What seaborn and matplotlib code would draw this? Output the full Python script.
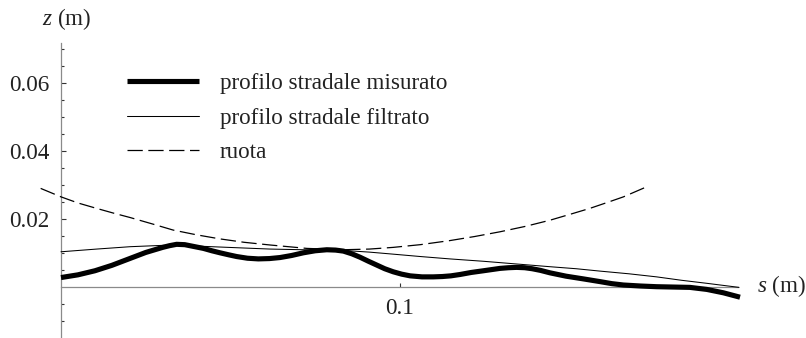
import matplotlib
matplotlib.use("Agg")
import matplotlib.pyplot as plt
from matplotlib.ticker import FixedLocator, FixedFormatter, NullFormatter
import pandas as pd
import seaborn as sns

# ---- data (s in m, z in m) ----
s_measured = [0.0, 0.005, 0.010, 0.015, 0.020, 0.025, 0.030, 0.032, 0.0341, 0.0365,
              0.0395, 0.042, 0.0445, 0.0469, 0.0495, 0.0518, 0.055, 0.0582, 0.0615,
              0.0646, 0.068, 0.0715, 0.075, 0.0784, 0.081, 0.0833, 0.0858, 0.0882,
              0.0907, 0.0931, 0.0955, 0.098, 0.1005, 0.103, 0.1065, 0.1098, 0.1125,
              0.115, 0.1177, 0.121, 0.1246, 0.1295, 0.132, 0.1344, 0.1368, 0.139,
              0.1415, 0.1442, 0.149, 0.1541, 0.159, 0.1625, 0.1659, 0.171, 0.1757,
              0.1805, 0.1855, 0.1905, 0.1954, 0.2003]
z_measured = [0.0027, 0.0035, 0.0047, 0.0063, 0.0082, 0.0101, 0.0116, 0.0121, 0.0125,
              0.0124, 0.0118, 0.0113, 0.0106, 0.0100, 0.0094, 0.0089, 0.0084, 0.0082,
              0.0083, 0.0086, 0.0092, 0.0100, 0.0106, 0.0109, 0.0108, 0.0105, 0.0097,
              0.0087, 0.0075, 0.0064, 0.0053, 0.0044, 0.0037, 0.0032, 0.0029, 0.0029,
              0.0030, 0.0032, 0.0036, 0.0042, 0.0047, 0.0054, 0.0056, 0.0057, 0.0056,
              0.0053, 0.0048, 0.0041, 0.0031, 0.0023, 0.0015, 0.0009, 0.0005, 0.0002,
              0.0, -0.0001, -0.0002, -0.0008, -0.0018, -0.0031]

s_filtered = [0.0, 0.0105, 0.0204, 0.0302, 0.036, 0.042, 0.0518, 0.0617, 0.0715,
              0.0833, 0.091, 0.098, 0.106, 0.1147, 0.1246, 0.1344, 0.1442, 0.152,
              0.159, 0.1676, 0.1757, 0.183, 0.1905, 0.2]
z_filtered = [0.0103, 0.0111, 0.0118, 0.0122, 0.0122, 0.0119, 0.0115, 0.0111, 0.0109,
              0.0107, 0.0102, 0.0096, 0.0089, 0.0082, 0.0075, 0.0067, 0.0059, 0.0053,
              0.0046, 0.0038, 0.0029, 0.0019, 0.0010, -0.0002]

s_wheel = [-0.006, 0.0, 0.005, 0.0105, 0.0155, 0.0204, 0.027, 0.0331, 0.04, 0.0469,
           0.054, 0.0617, 0.0725, 0.0833, 0.091, 0.098, 0.106, 0.1147, 0.122, 0.1295,
           0.137, 0.1442, 0.151, 0.156, 0.161, 0.1659, 0.1733]
z_wheel = [0.0290, 0.0265, 0.0247, 0.0231, 0.0217, 0.0204, 0.0185, 0.0167, 0.0153,
           0.0141, 0.0131, 0.0123, 0.0113, 0.0109, 0.0111, 0.0116, 0.0124, 0.0136,
           0.0148, 0.0162, 0.0178, 0.0196, 0.0216, 0.0231, 0.0248, 0.0265, 0.0297]

series_labels = ["profilo stradale misurato", "profilo stradale filtrato", "ruota"]

y_major = [0.02, 0.04, 0.06]
y_major_labels = ["0.02", "0.04", "0.06"]
y_minor = [-0.01, -0.005, 0.005, 0.01, 0.015, 0.025, 0.03, 0.035, 0.045, 0.05,
           0.055, 0.065, 0.07]
x_major = [0.1]
x_major_labels = ["0.1"]

# ---- style ----
sns.set_style("white")
plt.rcParams["font.family"] = ["Liberation Serif", "DejaVu Serif"]
plt.rcParams["mathtext.fontset"] = "custom"
plt.rcParams["mathtext.rm"] = "Liberation Serif"
plt.rcParams["mathtext.it"] = "Liberation Serif:italic"
plt.rcParams["lines.scale_dashes"] = False

FS = 16.7
W, H = 806, 338
fig = plt.figure(figsize=(W / 100, H / 100), dpi=100)
ax = fig.add_axes([0, 0, 1, 1])
ax.set_facecolor("white")

# same scale on both axes: 3390 px per metre, origin at pixel (61, 286.7)
px_per_m = 3390.0
x0, y0 = 61.0, 286.7
ax.set_xlim(-x0 / px_per_m, (W - x0) / px_per_m)
ax.set_ylim(-(H - y0) / px_per_m, y0 / px_per_m)

df_m = pd.DataFrame({"s": s_measured, "z": z_measured})
df_f = pd.DataFrame({"s": s_filtered, "z": z_filtered})
df_w = pd.DataFrame({"s": s_wheel, "z": z_wheel})

sns.lineplot(data=df_m, x="s", y="z", ax=ax, color="black", linewidth=3.7,
             label=series_labels[0], sort=False, solid_capstyle="butt",
             solid_joinstyle="round", zorder=3)
sns.lineplot(data=df_f, x="s", y="z", ax=ax, color="black", linewidth=0.75,
             label=series_labels[1], sort=False, zorder=4)
sns.lineplot(data=df_w, x="s", y="z", ax=ax, color="black", linewidth=0.9,
             label=series_labels[2], sort=False, zorder=4)
ax.lines[2].set_dashes((11, 4))

# ---- axes through the origin ----
for side in ("top", "right"):
    ax.spines[side].set_visible(False)
ax.spines["left"].set_position(("data", 0))
ax.spines["bottom"].set_position(("data", 0))
ax.spines["left"].set_bounds(-(H - y0) / px_per_m, (y0 - 43) / px_per_m)
ax.spines["bottom"].set_bounds(0, (738 - x0) / px_per_m)
for side in ("left", "bottom"):
    ax.spines[side].set_color("#8a8a8a")
    ax.spines[side].set_linewidth(0.9)
    ax.spines[side].set_zorder(1)

ax.yaxis.set_major_locator(FixedLocator(y_major))
ax.yaxis.set_major_formatter(FixedFormatter(y_major_labels))
ax.yaxis.set_minor_locator(FixedLocator(y_minor))
ax.yaxis.set_minor_formatter(NullFormatter())
ax.xaxis.set_major_locator(FixedLocator(x_major))
ax.xaxis.set_major_formatter(FixedFormatter(x_major_labels))

ax.tick_params(axis="y", which="major", direction="in", length=3.5, width=0.8,
               color="#333333", labelsize=FS, labelcolor="#222222", pad=8.5,
               left=True)
ax.tick_params(axis="y", which="minor", direction="in", length=2.4, width=0.8,
               color="#333333", left=True)
ax.tick_params(axis="x", which="major", direction="in", length=2.6, width=0.8,
               color="#333333", labelsize=FS, labelcolor="#222222", pad=8,
               bottom=True)

ax.set_xlabel("")
ax.set_ylabel("")

# axis names
ax.text(42 / W, 1 - 19 / H, r"$z$ (m)", transform=ax.transAxes, fontsize=FS,
        color="#222222", ha="left", va="center")
ax.text(757 / W, 1 - 286 / H, r"$s$ (m)", transform=ax.transAxes, fontsize=FS,
        color="#222222", ha="left", va="center")

leg = ax.legend(loc="upper left", bbox_to_anchor=(127 / W, 1 - 73 / H),
                frameon=False, fontsize=FS, handlelength=3.1,
                handletextpad=0.9, labelspacing=0.57, borderpad=0,
                borderaxespad=0)
for t in leg.get_texts():
    t.set_color("#222222")

fig.savefig("out.png", dpi=100, facecolor="white")
